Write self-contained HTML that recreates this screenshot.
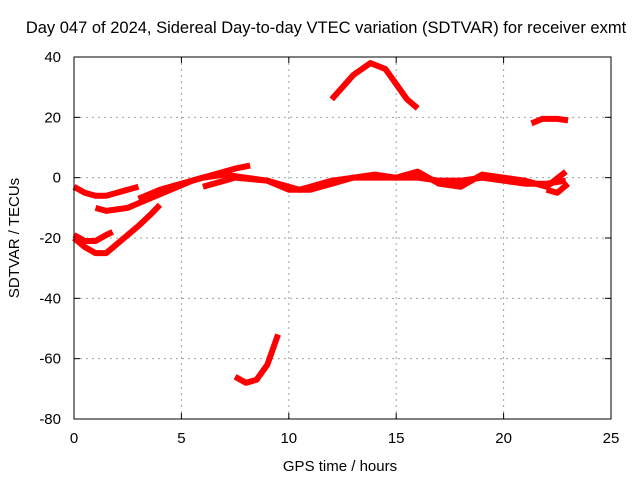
<!DOCTYPE html>
<html><head><meta charset="utf-8"><style>body{margin:0;background:#fff}svg{display:block}text{font-family:"Liberation Sans",sans-serif;font-size:15px;fill:#000}</style></head>
<body>
<svg id="c" width="640" height="480">
<text x="326" y="33" text-anchor="middle" style="font-size:16.5px">Day 047 of 2024, Sidereal Day-to-day VTEC variation (SDTVAR) for receiver exmt</text>
<text x="340" y="471" text-anchor="middle">GPS time / hours</text>
<text transform="translate(19,238) rotate(-90)" text-anchor="middle">SDTVAR / TECUs</text>
<g id="grid"></g><g id="marks"></g>
<rect x="74" y="57" width="537" height="362" fill="none" stroke="#000"/>
</svg>
<script>
const xTicks=[0,5,10,15,20,25];
const yTicks=[40,20,0,-20,-40,-60,-80];
const s1=[[0,-3],[0.5,-5],[1,-6],[1.5,-6],[2,-5],[3,-3]];
const s2=[[1,-10],[1.5,-11],[2.5,-10],[3.5,-7],[4.5,-4],[5.5,-1],[6.5,1],[7.5,3],[8.2,4]];
const s3=[[3,-7],[4,-4],[5,-2],[6,0],[7,1],[8,0],[9,-1],[10,-3],[10.5,-4],[11,-3],[12,-1],[13,0],[14,0],[15,0],[16,0],[17,-1],[18,-1],[19,0],[20,-1],[21,-2],[22,-2],[22.9,-1]];
const s4=[[6,-3],[7,-1],[7.5,0],[9,-1],[10,-4],[11,-4],[12,-2],[13,0],[14,1],[15,0],[16,2],[17,-2],[18,-3],[19,1],[20,0],[21,-1],[22,-3],[22.9,2]];
const s5=[[0,-19],[0.5,-21],[1,-21],[1.5,-19],[1.8,-18]];
const s6=[[0,-20],[0.5,-23],[1,-25],[1.5,-25],[2,-22],[3,-16],[3.6,-12],[4,-9]];
const s7=[[12,26],[13,34],[13.8,38],[14.5,36],[15,31],[15.5,26],[16,23]];
const s8=[[21.3,18],[21.8,19.5],[22.5,19.5],[23,19]];
const s9=[[7.5,-66],[8,-68],[8.5,-67],[9,-62],[9.5,-52]];
const s10=[[22,-4],[22.5,-5],[23,-2]];
const series=[s1,s2,s3,s4,s5,s6,s7,s8,s9,s10];
const X=v=>74+v*537/25, Y=v=>57+(40-v)*362/120;
const NS='http://www.w3.org/2000/svg';
const svg=document.getElementById('c'),g=document.getElementById('grid'),m=document.getElementById('marks');
function mk(t,a,p){const e=document.createElementNS(NS,t);for(const k in a)e.setAttribute(k,a[k]);p.appendChild(e);return e;}
xTicks.forEach(t=>{const x=X(t);
 if(t>0&&t<25){const l=mk('line',{x1:x,x2:x,y1:57,y2:419,stroke:'#a0a0a0','stroke-dasharray':'2,4'},g);
 
 }
 mk('line',{x1:x,x2:x,y1:419,y2:413,stroke:'#000'},g);mk('line',{x1:x,x2:x,y1:57,y2:63,stroke:'#000'},g);
 const tx=mk('text',{x:x,y:443,'text-anchor':'middle'},svg);tx.textContent=t;
 
 });
yTicks.forEach(t=>{const y=Y(t);
 if(t<40&&t>-80){const l=mk('line',{x1:74,x2:611,y1:y,y2:y,stroke:'#a0a0a0','stroke-dasharray':'2,4'},g);
 
 }
 mk('line',{x1:74,x2:80,y1:y,y2:y,stroke:'#000'},g);mk('line',{x1:611,x2:605,y1:y,y2:y,stroke:'#000'},g);
 const tx=mk('text',{x:61,y:y+5,'text-anchor':'end'},svg);tx.textContent=t;
 
 });
series.forEach((s,i)=>{const p=mk('polyline',{points:s.map(d=>X(d[0])+','+Y(d[1])).join(' '),fill:'none',stroke:'#f00','stroke-width':6,'stroke-linejoin':'round','stroke-linecap':'butt'},m);
 
 });
</script>
</body></html>
